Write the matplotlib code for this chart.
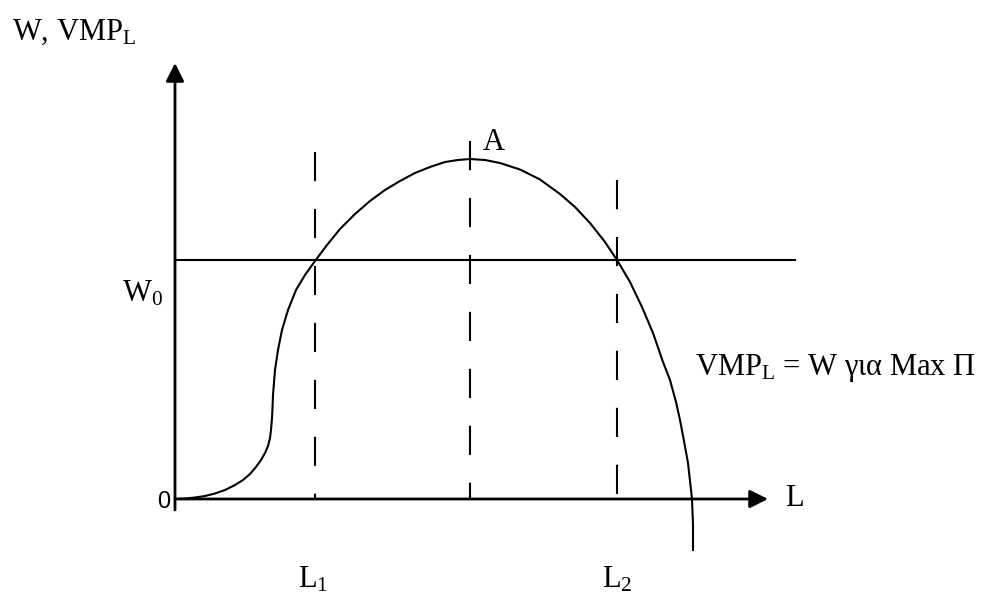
import matplotlib
matplotlib.use('Agg')
import matplotlib.pyplot as plt

plt.rcParams['font.family'] = ['Liberation Serif', 'DejaVu Serif']
plt.rcParams['mathtext.fontset'] = 'custom'
plt.rcParams['mathtext.rm'] = 'Liberation Serif'
plt.rcParams['mathtext.it'] = 'Liberation Serif:italic'
plt.rcParams['lines.scale_dashes'] = False

# Καμπύλη VMP_L (μονάδες: L οριζόντια, W κάθετα)
curve_L = [0.0, 1.0, 2.0, 3.0, 4.0, 5.0, 6.0, 6.8, 7.5, 8.1, 8.6, 9.0, 9.3, 9.5,
           9.6, 9.7, 9.75, 9.8,
           10.0, 10.3, 10.7, 11.3, 12.1, 13.0, 14.0, 15.2, 16.5, 18.0, 19.5,
           21.0, 22.5, 24.0, 25.5, 27.0, 28.3, 29.5,
           31.0, 32.5, 34.5, 36.5, 38.5, 40.0, 41.5, 43.0, 44.2, 45.5, 46.7,
           47.8, 48.8, 49.5, 50.1, 50.5, 50.9, 51.3, 51.5, 51.7, 51.8, 51.8]
curve_W = [0.0, 0.05, 0.15, 0.3, 0.55, 0.9, 1.4, 1.9, 2.5, 3.2, 3.9, 4.6, 5.3, 6.1,
           6.9, 8.1, 9.1, 10.4,
           12.9, 14.9, 16.9, 18.9, 20.9, 22.4, 23.8, 25.4, 27.0, 28.5, 29.8,
           30.9, 31.8, 32.6, 33.2, 33.7, 33.9, 34.0,
           33.9, 33.6, 32.95, 31.95, 30.5, 29.2, 27.6, 25.7, 23.9, 21.7, 19.2,
           16.6, 13.7, 11.9, 9.7, 7.9, 5.8, 3.6, 1.8, 0.0, -2.6, -5.1]

W0 = 23.9
L_end_W0 = 62.0
L1, L2, L_max = 14.0, 44.2, 29.5
dash_tops = [34.7, 35.8, 31.9]

x_axis_end = 59.3
y_axis_end = 43.6

fig = plt.figure(figsize=(9.87, 5.94), dpi=100)
ax = fig.add_axes([0, 0, 1, 1])
ax.set_xlim(-17.5, 81.2)
ax.set_ylim(-9.5, 49.9)
ax.axis('off')

# άξονες με βέλη
arrow = dict(arrowstyle='-|>,head_length=1.1,head_width=0.55', mutation_scale=10,
             lw=2.0, color='black', shrinkA=0, shrinkB=0)
ax.annotate('', xy=(x_axis_end, 0), xytext=(0, 0), arrowprops=arrow)
ax.annotate('', xy=(0, y_axis_end), xytext=(0, -1.1), arrowprops=arrow)

# W0
ax.plot([0, L_end_W0], [W0, W0], color='black', lw=1.5)

# διακεκομμένες κάθετες
for xv, top in zip([L1, L_max, L2], dash_tops):
    ax.plot([xv, xv], [top, 0], color='black', lw=1.5, linestyle=(0, (21, 20)))

# καμπύλη
ax.plot(curve_L, curve_W, color='black', lw=1.5, solid_joinstyle='round')

fs = 22
ax.text(-16.3, 45.9, r'W, VMP$_{\mathrm{L}}$', fontsize=fs, ha='left', va='baseline')
ax.text(-0.5, -0.3, '0', fontsize=17, family='Liberation Sans', ha='right', va='center')
ax.text(-5.3, 19.7, r'W$_{0}$', fontsize=fs, ha='left', va='baseline')
ax.text(30.8, 34.9, 'A', fontsize=fs, ha='left', va='baseline')
ax.text(61.0, -0.7, 'L', fontsize=fs, ha='left', va='baseline')
ax.text(12.3, -8.8, r'L$_{1}$', fontsize=fs, ha='left', va='baseline')
ax.text(42.7, -8.8, r'L$_{2}$', fontsize=fs, ha='left', va='baseline')
ax.text(52.0, 12.4, r'VMP$_{\mathrm{L}}$ = W για Max Π', fontsize=fs, ha='left', va='baseline')

fig.savefig('out.png', dpi=100)
